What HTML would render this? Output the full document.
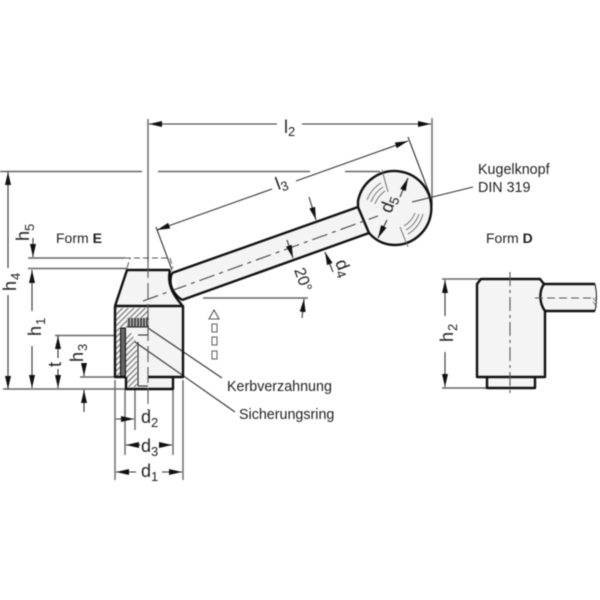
<!DOCTYPE html>
<html><head><meta charset="utf-8"><style>
html,body{margin:0;padding:0;background:#fff}
svg{display:block;filter:blur(0.55px)}
text{font-family:"Liberation Sans",sans-serif;fill:#222}
.k{fill:none;stroke:#111;stroke-width:2.4;stroke-linejoin:round}
.t{fill:none;stroke:#333;stroke-width:1.1}
.g{fill:none;stroke:#666;stroke-width:1.4}
.c{fill:none;stroke:#444;stroke-width:1.1;stroke-dasharray:16 5 4 5}
.h{stroke:#555;stroke-width:0.9}
</style></head><body>
<svg width="600" height="600" viewBox="0 0 600 600" xmlns="http://www.w3.org/2000/svg">
<defs>
<marker id="m" viewBox="0 0 13 6" refX="13" refY="3" markerWidth="13" markerHeight="6" orient="auto-start-reverse" markerUnits="userSpaceOnUse"><path d="M0 0L13 3L0 6z" fill="#111"/></marker>
<pattern id="hp" width="4" height="4" patternUnits="userSpaceOnUse" patternTransform="rotate(45)"><rect width="4" height="4" fill="#f4f4f4"/><rect width="1" height="4" fill="#666"/></pattern>
</defs>

<!-- light fills -->
<path d="M172 273L358 207L369 233L182 300Z" fill="#f4f4f4"/>
<path d="M127 270H170C166 282 172 293 182 300V306H115Z" fill="#f4f4f4"/>
<rect x="115" y="306" width="68" height="71" fill="#f4f4f4"/>
<rect x="126" y="377" width="47" height="12" fill="#f4f4f4"/>
<circle cx="395" cy="208" r="37" fill="#f4f4f4"/>

<!-- extension lines -->
<g class="t">
<path class="g" d="M148 119V262"/>
<path class="g" d="M432 118V205"/>
<path class="g" d="M0 171.500H142M158 171.500H310M345 171.500H380"/>
<path class="g" d="M28 258H125"/><path class="g" d="M28 268.500H127"/>
<path class="g" d="M3 389H126"/><path class="g" d="M55 335.500H130"/><path class="g" d="M80 377H115"/>
<path class="g" d="M115 380V480M125 390V455M135 390V430M173 390V455M183 380V480"/>
<path d="M156 227L172 270"/>
<path d="M408 137L430 195"/>
<path class="g" d="M203 298H308"/>
<path class="g" d="M442 279H481M442 388H487"/>
</g>
<path d="M125 258H170L173 268M127 268L130 258" fill="none" stroke="#555" stroke-width="1" stroke-dasharray="6 3"/>

<!-- l2 -->
<path class="t" d="M149 124H277" marker-start="url(#m)"/>
<path class="t" d="M302 124H431" marker-end="url(#m)"/>
<text x="284" y="133" font-size="18">l</text><text x="288" y="136" font-size="13">2</text>
<!-- l3 -->
<path class="t" d="M157 230L272 189" marker-start="url(#m)"/>
<path class="t" d="M296 181L408 141" marker-end="url(#m)"/>
<g transform="translate(278,190) rotate(-20)"><text font-size="18">l</text><text x="4" y="3" font-size="13">3</text></g>

<!-- handle -->
<path class="k" d="M172 273L358 207M182 300L369 233"/>
<path class="k" d="M172 273C168 283 172 293 182 300"/>
<path class="k" d="M369 233C376 241 385 245 395 245A37 37 0 1 0 358 201L358 207L369 233"/>
<path class="c" d="M143 301L378 216"/>
<path class="t" d="M412 202L473 187"/>

<!-- ball details -->
<g fill="none" stroke="#666" stroke-width="0.9">
<path d="M367 200A34 34 0 0 1 381 183M371 202A30 30 0 0 1 383 187M375 204A26 26 0 0 1 385 191"/>
<path d="M423 214A34 34 0 0 1 408 234M419 214A30 30 0 0 1 406 230M415 213A26 26 0 0 1 404 226"/>
<path d="M382 170L388 192M400 227L408 247"/>
</g>
<path class="t" d="M408 178L400 197" marker-start="url(#m)"/>
<path class="t" d="M378 238L387 220" marker-start="url(#m)"/>
<g transform="translate(391,214) rotate(-70)"><text font-size="18">d</text><text x="10" y="3" font-size="13">5</text></g>

<!-- d4 -->
<path class="t" d="M309 197L316 220" marker-end="url(#m)"/>
<path class="t" d="M287 240L293 258" marker-end="url(#m)"/>
<path class="t" d="M333 272L325 252" marker-end="url(#m)"/>
<g transform="translate(335,262) rotate(70)"><text font-size="18">d</text><text x="10" y="3" font-size="13">4</text></g>
<g transform="translate(294,270) rotate(70)"><text font-size="16">20°</text></g>
<path class="t" d="M302 318L304 299" marker-end="url(#m)"/>

<!-- h2 -->
<path class="t" d="M445 280V316" marker-start="url(#m)"/>
<path class="t" d="M445 352V387" marker-end="url(#m)"/>

<!-- section -->
<path d="M116 327L116 308H148V318H130L127 327Z" fill="url(#hp)"/>
<path d="M116 328H120V377H116Z" fill="url(#hp)"/>
<path d="M126 333L131 333L137 343V387H126Z" fill="url(#hp)"/>
<rect x="127" y="318" width="22" height="9" fill="#aaa"/>
<path d="M129 318V327M132 318V327M135 318V327M138 318V327M141 318V327M144 318V327M147 318V327" stroke="#222" stroke-width="1.2"/>
<rect x="120.500" y="328" width="5" height="49" fill="#666" stroke="#111" stroke-width="1"/>
<path d="M138 342V386M138 386H148M138 335H148M127 327H149" fill="none" stroke="#222" stroke-width="1.1"/>
<path class="t" d="M148 328L222 378"/>
<path class="t" d="M135 342L235 412"/>

<!-- body -->
<path class="k" d="M115 306L127 270H170"/>
<path class="k" d="M170 270C167 283 172 294 182 305"/>
<path class="k" d="M115 306H183V377H148M115 306V377H126"/>
<path class="k" d="M126 377V389H173V377"/>
<path d="M148 262V410" fill="none" stroke="#555" stroke-width="1.1" stroke-dasharray="16 5"/>

<!-- vertical dims -->
<path class="t" d="M8 172V268" marker-start="url(#m)"/>
<path class="t" d="M8 295V389" marker-end="url(#m)"/>
<text font-size="18" transform="translate(16,291) rotate(-90)">h</text><text font-size="13" transform="translate(20,280) rotate(-90)">4</text>
<path class="t" d="M33 238V257" marker-end="url(#m)"/>
<text font-size="18" transform="translate(29,241) rotate(-90)">h</text><text font-size="13" transform="translate(34,231) rotate(-90)">5</text>
<path class="t" d="M32 270V311" marker-start="url(#m)"/>
<path class="t" d="M32 346V388" marker-end="url(#m)"/>
<text font-size="18" transform="translate(41,336) rotate(-90)">h</text><text font-size="13" transform="translate(45,325) rotate(-90)">1</text>
<path class="t" d="M58 336V358" marker-start="url(#m)"/><path class="t" d="M58 369V388" marker-end="url(#m)"/>
<text font-size="18" transform="translate(61,367) rotate(-90)">t</text>
<path class="t" d="M84 363V376" marker-end="url(#m)"/>
<path class="t" d="M84 412V390" marker-end="url(#m)"/>
<text font-size="18" transform="translate(83,362) rotate(-90)">h</text><text font-size="13" transform="translate(87,351) rotate(-90)">3</text>

<!-- horizontal dims -->
<path class="t" d="M116 419H134" marker-end="url(#m)"/>
<text x="141" y="423" font-size="18">d</text><text x="151" y="427" font-size="13">2</text>
<path class="t" d="M126 445H140" marker-start="url(#m)"/>
<path class="t" d="M160 445H172" marker-end="url(#m)"/>
<text x="141" y="452" font-size="18">d</text><text x="151" y="456" font-size="13">3</text>
<path class="t" d="M116 472H136" marker-start="url(#m)"/>
<path class="t" d="M162 472H182" marker-end="url(#m)"/>
<text x="141" y="477" font-size="18">d</text><text x="151" y="481" font-size="13">1</text>

<!-- labels -->
<text x="56" y="243" font-size="14">Form <tspan font-weight="bold">E</tspan></text>
<text x="486" y="243" font-size="14">Form <tspan font-weight="bold">D</tspan></text>
<text x="478" y="174" font-size="14.300">Kugelknopf</text>
<text x="478" y="192" font-size="14.300">DIN 319</text>
<text x="227" y="391" font-size="14.300">Kerbverzahnung</text>
<text x="239" y="419" font-size="14.300">Sicherungsring</text>

<!-- placeholder glyphs -->
<path d="M209 319L214 310L219 319Z" fill="none" stroke="#555" stroke-width="1.1"/>
<rect x="212" y="324" width="5" height="8" fill="none" stroke="#666" stroke-width="1.1"/>
<rect x="212" y="337" width="5" height="8" fill="none" stroke="#666" stroke-width="1.1"/>
<rect x="212" y="351" width="5" height="8" fill="none" stroke="#666" stroke-width="1.1"/>

<!-- Form D -->
<path d="M477 284L481 279H540L545 284V377H477Z" fill="#f4f4f4"/>
<rect x="545" y="284" width="50" height="27" fill="#f4f4f4"/>
<rect x="487" y="377" width="48" height="11" fill="#f4f4f4"/>
<path class="k" d="M477 284L481 279H540L544 284C539 291 539 303 545 311V377H477Z"/>
<path class="k" d="M487 377V388H535V377"/>
<path class="k" d="M544 284H595M545 311H595"/>
<path d="M595 284Q598 297 595 311" fill="none" stroke="#111" stroke-width="1"/>
<path d="M593 298L597 303M593 302L597 307" stroke="#666" stroke-width="0.8"/>
<path d="M535 298H596" fill="none" stroke="#555" stroke-width="1.1" stroke-dasharray="8 4"/>
<path d="M510 272V396" fill="none" stroke="#555" stroke-width="1.1" stroke-dasharray="14 4 3 4"/>
<text font-size="18" transform="translate(453,342) rotate(-90)">h</text><text font-size="13" transform="translate(457,331) rotate(-90)">2</text>
</svg>
</body></html>
